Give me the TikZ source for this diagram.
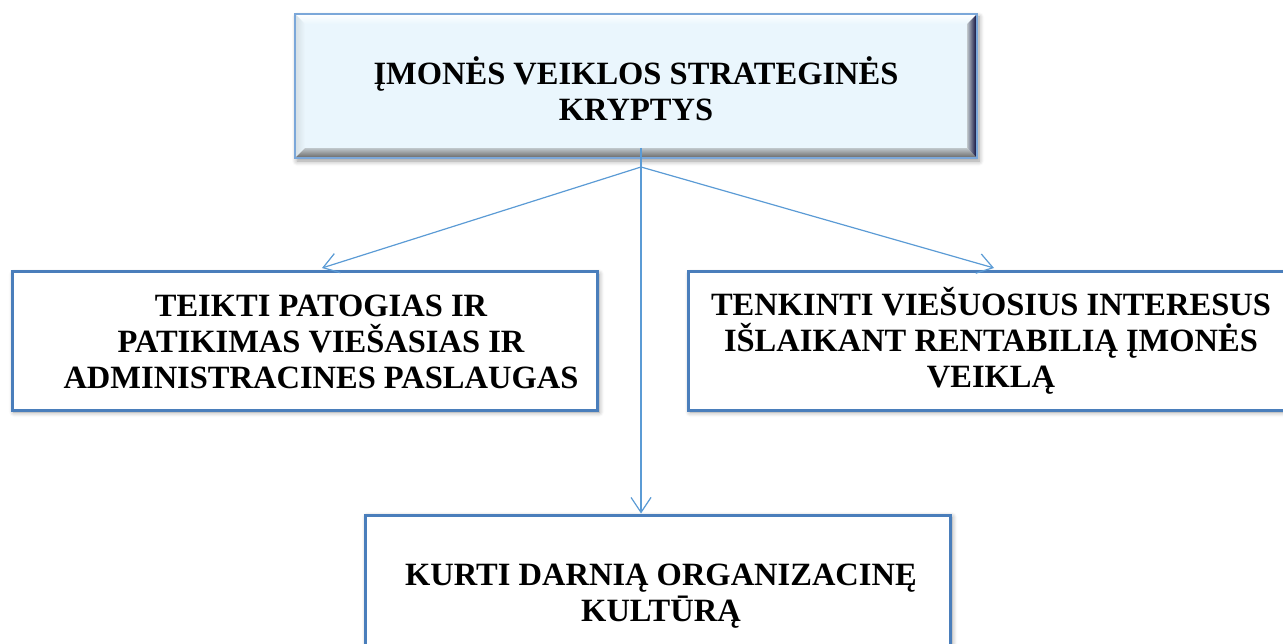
\documentclass[tikz,border=0pt]{standalone}
\usepackage{fontspec}
\setmainfont{Liberation Serif}
\usetikzlibrary{arrows.meta,shadows.blur}
\definecolor{lineblue}{HTML}{5B9BD5}
\definecolor{boxborder}{HTML}{4A7EBB}
\definecolor{topfill}{HTML}{EAF6FD}
\definecolor{topborder}{HTML}{7BA7D9}
\begin{document}
\begin{tikzpicture}[x=1pt,y=-1pt,
  lbl/.style={font=\bfseries\fontsize{32.5}{36}\selectfont, align=center, inner sep=0pt},
  plainbox/.style={draw=boxborder, line width=3pt, fill=white, inner sep=0pt,
    blur shadow={shadow xshift=2pt, shadow yshift=-2pt, shadow blur steps=6, shadow blur radius=5pt}},
  conn/.style={draw=lineblue, line width=1.2pt},
  tip/.style={-{Straight Barb[length=15pt,width=20pt,line width=1.2pt]}}]
\useasboundingbox (0,0) rectangle (1283,644);

% top bevelled box
\node[inner sep=0pt, minimum width=682pt, minimum height=144pt, fill=white,
  blur shadow={shadow xshift=2pt, shadow yshift=-3pt, shadow blur steps=6, shadow blur radius=5pt}] (top) at (636,86) {};
\shade[top color=white, bottom color=topfill] (295,14) -- (977,14) -- (967,24) -- (305,24) -- cycle;
\shade[left color=topfill!80!gray, right color=topfill] (295,14) -- (305,24) -- (305,148) -- (295,158) -- cycle;
\shade[top color=topfill!60!gray, bottom color=gray!80!black] (295,158) -- (305,148) -- (967,148) -- (977,158) -- cycle;
\shade[left color=topfill!60!gray, right color=black!80!blue] (977,14) -- (967,24) -- (967,148) -- (977,158) -- cycle;
\fill[topfill] (305,24) rectangle (967,148);
\draw[topborder, line width=1.5pt] (top.north west) rectangle (top.south east);
\node[lbl] (toptext) at (636,89) {ĮMONĖS VEIKLOS STRATEGINĖS\\KRYPTYS};

% lower boxes
\node[plainbox, minimum width=585pt, minimum height=138pt] (left) at (304.5,341) {};
\node[lbl] (lefttext) at (321,342) {TEIKTI PATOGIAS IR\\PATIKIMAS VIEŠASIAS IR\\ADMINISTRACINES PASLAUGAS};

\node[plainbox, minimum width=607pt, minimum height=138pt] (right) at (991.5,341) {};
\node[lbl] (righttext) at (991,341) {TENKINTI VIEŠUOSIUS INTERESUS\\IŠLAIKANT RENTABILIĄ ĮMONĖS\\VEIKLĄ};

\node[plainbox, minimum width=585pt, minimum height=150pt] (bottom) at (657.5,590) {};
\node[lbl] (bottomtext) at (661,596) {KURTI DARNIĄ ORGANIZACINĘ\\KULTŪRĄ};

% connectors
\coordinate (start) at (641,148);
\coordinate (hub) at (641,167);
\coordinate (lt) at (322,268);
\coordinate (rt) at (994,268);
\draw[conn, tip] (start) -- (bottom.north -| start);
\draw[conn, tip] (hub) -- (lt);
\draw[conn, tip] (hub) -- (rt);
\end{tikzpicture}
\end{document}
